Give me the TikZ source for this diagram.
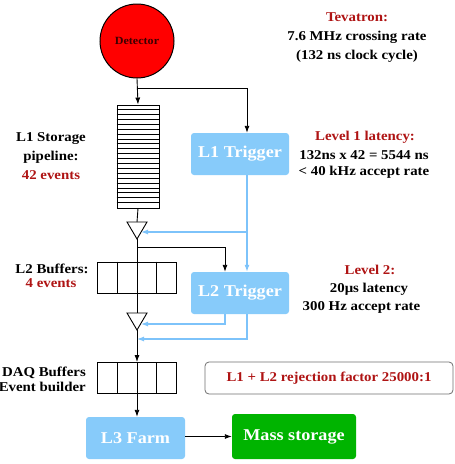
\documentclass[tikz,border=0pt]{standalone}
\usepackage{fontspec}
\setmainfont{Liberation Serif}[FakeStretch=1.1]
\usetikzlibrary{arrows.meta}
\definecolor{lblue}{RGB}{135,203,250}
\definecolor{bline}{RGB}{125,195,250}
\definecolor{dred}{RGB}{175,20,20}
\definecolor{mgreen}{RGB}{0,180,0}
\tikzset{
  blk/.style={line width=0.9pt, black},
  blu/.style={line width=1.2pt, bline},
  arr/.style={-{Latex[length=7pt,width=5pt]}},
  trigbox/.style={rectangle, rounded corners=3pt, fill=lblue, text=white, minimum width=98pt, minimum height=42pt, font=\fontsize{16.5}{19}\selectfont\bfseries},
  buf/.style={rectangle, draw, line width=0.9pt, minimum width=79pt, minimum height=31pt, inner sep=0pt},
  lbl/.style={font=\fontsize{13.5}{15}\selectfont\bfseries, inner sep=0pt},
  rlbl/.style={lbl, text=dred},
}
\begin{document}
\begin{tikzpicture}[x=1pt,y=-1pt]
\useasboundingbox (0,0) rectangle (455,464);
% detector
\node[circle, draw, line width=1pt, fill=red, minimum size=74pt, inner sep=0pt,
  font=\fontsize{11}{12}\selectfont\bfseries, text={rgb,255:red,60;green,0;blue,0}] (det) at (137,41) {Detector};
% pipeline
\node[rectangle, draw, line width=0.9pt, minimum width=42pt, minimum height=103pt, inner sep=0pt] (pipe) at (138,156.5) {};
\foreach \i in {1,...,20} {
  \draw[line width=0.7pt] ([yshift=-\i*4.905pt]pipe.north west) -- ([yshift=-\i*4.905pt]pipe.north east);
}
% triangles
\coordinate (t1) at (137,222);
\draw[blk, fill=white] (127,222) -- (147,222) -- (137,239) -- cycle;
\coordinate (t1a) at (137,239);
\coordinate (t2) at (137,313);
\draw[blk, fill=white] (127,313) -- (147,313) -- (137,330) -- cycle;
\coordinate (t2a) at (137,330);
% buffers
\node[buf] (l2buf) at (136.5,277.5) {};
\node[buf] (daq) at (136.5,378) {};
\foreach \n in {l2buf,daq} {
  \foreach \x in {117,156} {
    \draw[line width=0.9pt] (\x,0 |- \n.north) -- (\x,0 |- \n.south);
  }
}
% trigger boxes
\node[trigbox] (l1t) at (240,154) {L1 Trigger};
\node[trigbox] (l2t) at (240,293) {L2 Trigger};
\node[trigbox, minimum width=99pt] (l3) at (135.5,438) {L3 Farm};
\node[rectangle, rounded corners=3pt, fill=mgreen, text=white, minimum width=124pt, minimum height=45pt, font=\fontsize{16.5}{19}\selectfont\bfseries] (mass) at (294,436.5) {Mass storage};
\node[rectangle, rounded corners=4pt, draw={rgb,255:red,110;green,110;blue,110}, line width=0.8pt, minimum width=248pt, minimum height=32pt, font=\fontsize{13.5}{15}\selectfont\bfseries, text=dred] (rej) at (329,378) {L1 + L2 rejection factor 25000:1};
% connectors black
\draw[blk, arr] (det.south) -- (pipe.north);
\draw[blk, arr] (137,88) -- (247,88) -- (247,0 |- l1t.north);
\draw[blk] (pipe.south) -- (t1);
\draw[blk] (t1a) -- (t2);
\draw[blk, arr] (137,247) -- (225,247) -- (225,0 |- l2t.north);
\draw[blk, arr] (t2a) -- (137,0 |- daq.north);
\draw[blk, arr] (137,0 |- daq.north) -- (137,0 |- l3.north);
\draw[blk, arr] (l3.east |- mass.west) -- (mass.west);
% connectors blue
\draw[blu, arr] (247,0 |- l1t.south) -- (247,0 |- l2t.north);
\draw[blu, arr] (247,232) -- (141,232);
\draw[blu, arr] (225,0 |- l2t.south) -- (225,324) -- (141,324);
\draw[blu, arr] (247,0 |- l2t.south) -- (247,339) -- (137,339);
% texts
\node[rlbl] (tev1) at (357,17) {Tevatron:};
\node[lbl] (tev2) at (357,37) {7.6 MHz crossing rate};
\node[lbl] (tev3) at (357,56) {(132 ns clock cycle)};
\node[rlbl] (lv1a) at (365,137) {Level 1 latency:};
\node[lbl] (lv1b) at (364,155) {132ns x 42 = 5544 ns};
\node[lbl] (lv1c) at (364,172) {< 40 kHz accept rate};
\node[rlbl] (lv2a) at (370,270) {Level 2:};
\node[lbl] (lv2b) at (369,289) {20μs latency};
\node[lbl] (lv2c) at (361.5,307) {300 Hz accept rate};
\node[lbl] (st1) at (51,139) {L1 Storage};
\node[lbl] (st2) at (51,157) {pipeline:};
\node[rlbl] (st3) at (51,175) {42 events};
\node[lbl] (b1) at (52,269) {L2 Buffers:};
\node[rlbl] (b2) at (51,283.5) {4 events};
\node[lbl, anchor=east] (d1) at (86,373) {DAQ Buffers};
\node[lbl, anchor=east] (d2) at (86,387) {Event builder};
\end{tikzpicture}
\end{document}
